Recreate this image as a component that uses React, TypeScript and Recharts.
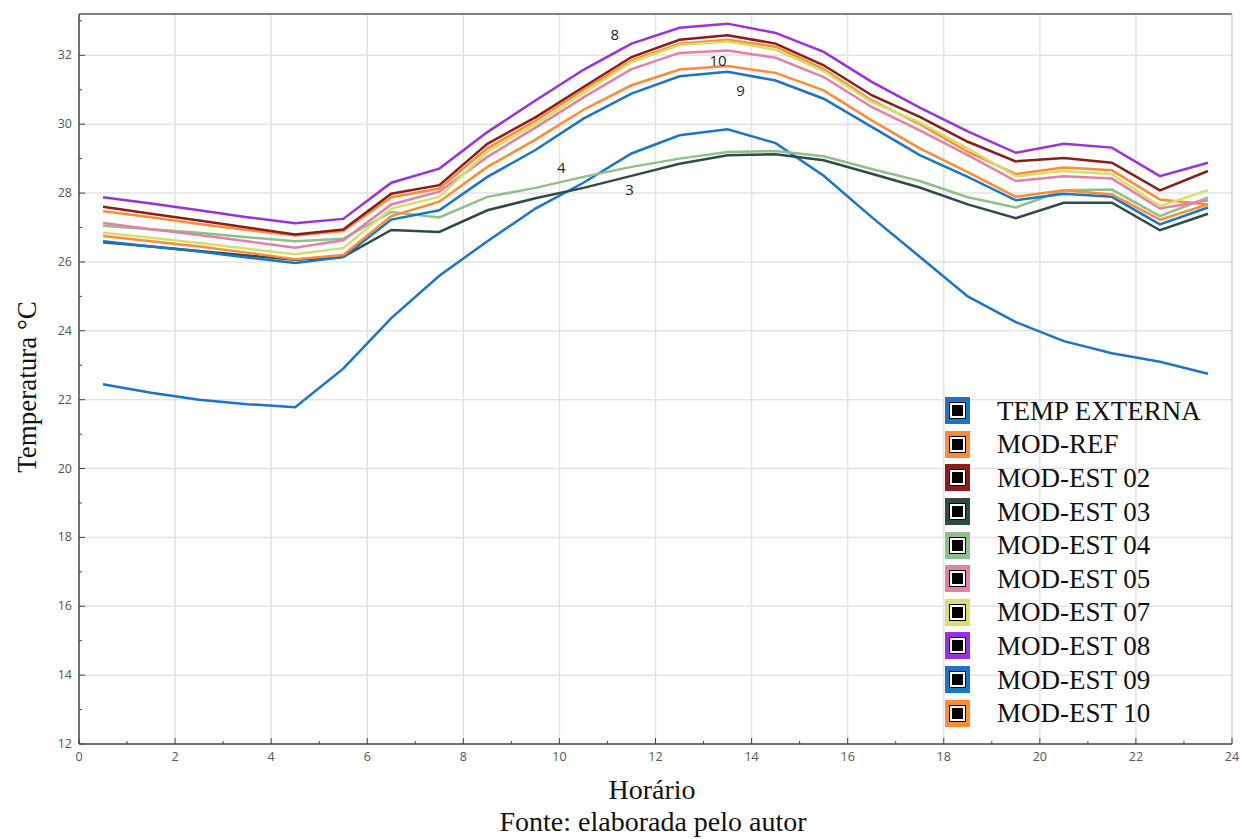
import { LineChart, Line, XAxis, YAxis, CartesianGrid, ReferenceDot, ReferenceLine } from 'recharts';

// hora (meio de cada intervalo horário)
const hours = [0.5, 1.5, 2.5, 3.5, 4.5, 5.5, 6.5, 7.5, 8.5, 9.5, 10.5, 11.5, 12.5, 13.5, 14.5, 15.5, 16.5, 17.5, 18.5, 19.5, 20.5, 21.5, 22.5, 23.5];

const tempExterna = [22.45, 22.2, 22.0, 21.87, 21.78, 22.9, 24.37, 25.6, 26.6, 27.55, 28.3, 29.15, 29.68, 29.85, 29.45, 28.5, 27.3, 26.15, 25.0, 24.25, 23.7, 23.35, 23.1, 22.75];
const modRef = [27.47, 27.3, 27.1, 26.93, 26.77, 26.9, 27.88, 28.13, 29.3, 30.1, 31.0, 31.85, 32.34, 32.45, 32.25, 31.6, 30.69, 30.0, 29.2, 28.55, 28.74, 28.66, 27.81, 27.67];
const modEst02 = [27.6, 27.4, 27.2, 27.0, 26.8, 26.94, 27.98, 28.23, 29.43, 30.2, 31.08, 31.95, 32.45, 32.58, 32.34, 31.71, 30.84, 30.21, 29.49, 28.92, 29.02, 28.88, 28.08, 28.64];
const modEst03 = [26.57, 26.45, 26.32, 26.19, 26.06, 26.15, 26.93, 26.87, 27.5, 27.85, 28.15, 28.5, 28.85, 29.1, 29.13, 28.95, 28.56, 28.16, 27.67, 27.27, 27.72, 27.72, 26.92, 27.4];
const modEst04 = [27.05, 26.95, 26.85, 26.72, 26.6, 26.67, 27.45, 27.29, 27.89, 28.15, 28.47, 28.76, 29.0, 29.19, 29.22, 29.07, 28.7, 28.35, 27.88, 27.58, 28.08, 28.1, 27.33, 27.87];
const modEst05 = [27.13, 26.95, 26.78, 26.6, 26.41, 26.63, 27.67, 28.04, 29.05, 29.9, 30.78, 31.6, 32.07, 32.14, 31.93, 31.37, 30.5, 29.82, 29.1, 28.35, 28.49, 28.42, 27.55, 27.79];
const modEst07 = [26.85, 26.7, 26.55, 26.38, 26.22, 26.4, 27.55, 27.89, 29.2, 30.0, 30.9, 31.8, 32.3, 32.4, 32.16, 31.54, 30.64, 30.05, 29.3, 28.49, 28.64, 28.55, 27.62, 28.08];
const modEst08 = [27.88, 27.7, 27.5, 27.3, 27.12, 27.25, 28.3, 28.71, 29.77, 30.69, 31.58, 32.34, 32.8, 32.92, 32.65, 32.1, 31.23, 30.48, 29.79, 29.17, 29.43, 29.32, 28.49, 28.88];
const modEst09 = [26.6, 26.45, 26.3, 26.13, 25.97, 26.14, 27.23, 27.5, 28.47, 29.25, 30.16, 30.89, 31.39, 31.52, 31.27, 30.74, 29.92, 29.1, 28.47, 27.79, 27.98, 27.89, 27.09, 27.58];
const modEst10 = [26.75, 26.6, 26.45, 26.27, 26.08, 26.2, 27.33, 27.75, 28.76, 29.55, 30.42, 31.13, 31.59, 31.69, 31.49, 30.98, 30.11, 29.3, 28.61, 27.89, 28.08, 27.96, 27.23, 27.67];

const xTicks = [0, 1, 2, 3, 4, 5, 6, 7, 8, 9, 10, 11, 12, 13, 14, 15, 16, 17, 18, 19, 20, 21, 22, 23, 24];
const yTicks = [12, 13, 14, 15, 16, 17, 18, 19, 20, 21, 22, 23, 24, 25, 26, 27, 28, 29, 30, 31, 32, 33];
const xGrid = [2, 4, 6, 8, 10, 12, 14, 16, 18, 20, 22];
const yGrid = [14, 16, 18, 20, 22, 24, 26, 28, 30, 32];

// rótulos numéricos soltos no gráfico
const notes = [
  { text: '8', x: 11.15, y: 32.6 },
  { text: '10', x: 13.3, y: 31.85 },
  { text: '9', x: 13.77, y: 30.98 },
  { text: '4', x: 10.04, y: 28.75 },
  { text: '3', x: 11.46, y: 28.1 },
];

const series = [
  { key: 'ext', name: 'TEMP EXTERNA', color: '#1a75c9', values: tempExterna },
  { key: 'ref', name: 'MOD-REF', color: '#ff8b33', values: modRef },
  { key: 'e02', name: 'MOD-EST 02', color: '#8b1c1c', values: modEst02 },
  { key: 'e03', name: 'MOD-EST 03', color: '#2f4a47', values: modEst03 },
  { key: 'e04', name: 'MOD-EST 04', color: '#8fbf8a', values: modEst04 },
  { key: 'e05', name: 'MOD-EST 05', color: '#e47fa6', values: modEst05 },
  { key: 'e07', name: 'MOD-EST 07', color: '#d5df6c', values: modEst07 },
  { key: 'e08', name: 'MOD-EST 08', color: '#9a30de', values: modEst08 },
  { key: 'e09', name: 'MOD-EST 09', color: '#1a75c9', values: modEst09 },
  { key: 'e10', name: 'MOD-EST 10', color: '#ff8b33', values: modEst10 },
];

const data = hours.map((h, i) => {
  const row: Record<string, number> = { hora: h };
  series.forEach(s => { row[s.key] = s.values[i]; });
  return row;
});

const tickFont = '"Open Sans", "Noto Sans", sans-serif';
const serif = '"Liberation Serif", "Times New Roman", serif';

function XTick(props: any) {
  const { x, y, payload } = props;
  const major = payload.value % 2 === 0;
  return (
    <g>
      <line x1={x} x2={x} y1={y} y2={y - (major ? 6 : 3)} stroke="#444" strokeWidth={1} />
      {major && (
        <text x={x} y={y + 17} textAnchor="middle" fontSize={12.5} fill="#555" fontFamily={tickFont}>
          {payload.value}
        </text>
      )}
    </g>
  );
}

function YTick(props: any) {
  const { x, y, payload } = props;
  const major = payload.value % 2 === 0;
  return (
    <g>
      <line x1={x} x2={x + (major ? 6 : 3)} y1={y} y2={y} stroke="#444" strokeWidth={1} />
      {major && (
        <text x={x - 7} y={y + 4} textAnchor="end" fontSize={12.5} fill="#555" fontFamily={tickFont}>
          {payload.value}
        </text>
      )}
    </g>
  );
}

function Swatch({ color }: { color: string }) {
  return (
    <div style={{ width: 25, height: 27, background: color, display: 'flex', alignItems: 'center', justifyContent: 'center' }}>
      <div style={{ width: 11, height: 11, background: '#000', border: '2px solid #fff', outline: '1.5px solid #000' }} />
    </div>
  );
}

export default function App() {
  return (
    <div style={{ position: 'absolute', left: 0, top: 0, width: 1240, height: 839, background: '#fff', overflow: 'hidden' }}>
      <LineChart width={1240} height={839} data={data} margin={{ top: 14, right: 8, bottom: 0, left: 0 }}>
        <CartesianGrid stroke="#e3e3e3" strokeWidth={1.5} verticalValues={xGrid} horizontalValues={yGrid} />
        <XAxis
          dataKey="hora"
          type="number"
          domain={[0, 24]}
          ticks={xTicks}
          interval={0}
          height={95}
          tickSize={0}
          tickMargin={0}
          tickLine={false}
          tick={<XTick />}
          axisLine={{ stroke: '#444', strokeWidth: 1.5 }}
        />
        <YAxis
          type="number"
          domain={[12, 33.2]}
          ticks={yTicks}
          interval={0}
          width={79}
          tickSize={0}
          tickMargin={0}
          tickLine={false}
          tick={<YTick />}
          allowDataOverflow
          axisLine={{ stroke: '#444', strokeWidth: 1.5 }}
        />
        <ReferenceLine y={33.2} stroke="#555" strokeWidth={1.5} />
        <ReferenceLine x={24} stroke="#d0d0d0" strokeWidth={1.5} />
        {series.map(s => (
          <Line
            key={s.key}
            dataKey={s.key}
            name={s.name}
            stroke={s.color}
            strokeWidth={2.5}
            dot={false}
            isAnimationActive={false}
          />
        ))}
        {notes.map(n => (
          <ReferenceDot
            key={n.text}
            x={n.x}
            y={n.y}
            r={0}
            stroke="none"
            fill="none"
            label={{ value: n.text, position: 'center', fontSize: 15, fill: '#222', fontFamily: tickFont }}
          />
        ))}
      </LineChart>

      <div style={{ position: 'absolute', left: 945, top: 394, fontFamily: serif }}>
        {series.map(s => (
          <div key={s.key} style={{ display: 'flex', alignItems: 'center', height: 33.6 }}>
            <Swatch color={s.color} />
            <span style={{ marginLeft: 27, fontSize: 27, color: '#111', lineHeight: '28px' }}>{s.name}</span>
          </div>
        ))}
      </div>

      <div
        style={{
          position: 'absolute',
          left: 27,
          top: 387,
          transform: 'translate(-50%, -50%) rotate(-90deg)',
          whiteSpace: 'nowrap',
          fontFamily: serif,
          fontSize: 27,
          lineHeight: 1,
          color: '#111',
        }}
      >
        Temperatura °C
      </div>
      <div style={{ position: 'absolute', left: 0, width: 1304, top: 776, lineHeight: 1, textAlign: 'center', fontFamily: serif, fontSize: 28, color: '#111' }}>
        Horário
      </div>
      <div style={{ position: 'absolute', left: 0, width: 1306, top: 808, lineHeight: 1, textAlign: 'center', fontFamily: serif, fontSize: 28, color: '#111' }}>
        Fonte: elaborada pelo autor
      </div>
    </div>
  );
}
